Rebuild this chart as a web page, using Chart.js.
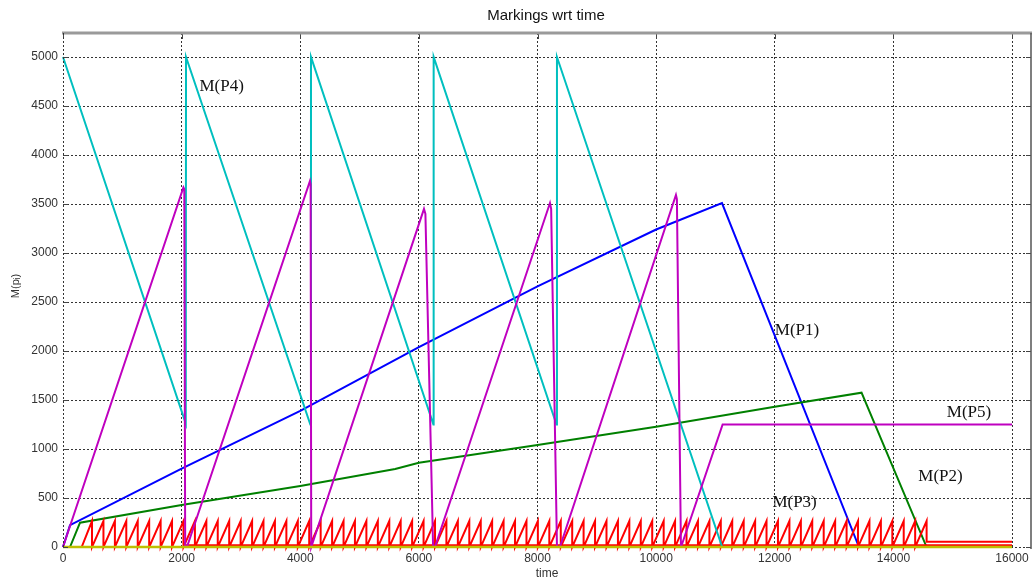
<!DOCTYPE html>
<html><head><meta charset="utf-8">
<script src="https://cdn.jsdelivr.net/npm/chart.js@4.4.1/dist/chart.umd.min.js"></script>
<style>html,body{margin:0;padding:0;background:#fff;}canvas{display:block}</style>
</head><body>
<canvas id="c" width="1033" height="581"></canvas>
<script>
// ---- tick labels ----
const xTicks = [0,2000,4000,6000,8000,10000,12000,14000,16000];
const yTicks = [0,500,1000,1500,2000,2500,3000,3500,4000,4500,5000];

// ---- M(P1) blue ----
const p1Time = [0,118,2000,4000,6000,8000,10000,11110,13420,16000];
const p1Val  = [0,224,800,1390,2040,2660,3240,3510,0,0];

// ---- M(P2) green ----
const p2Time = [0,118,287,2000,4000,5600,6000,8000,10000,12000,13463,14560,16000];
const p2Val  = [0,0,248,428,622,796,860,1040,1228,1432,1575,0,0];

// ---- M(P3) red sawtooth: times of the tooth peaks ----
const p3Start = 315;
const p3Peak = 265;
const p3PeakTimes = [489,682,875,1067,1260,1453,1646,1838,2031,2224,2417,2609,2802,2995,3188,3380,3573,3766,3959,4151,
  4344,4537,4730,4922,5115,5308,5501,5693,5886,6079,6272,6464,6657,6850,7043,7235,7428,7621,7814,8006,
  8199,8392,8585,8777,8970,9163,9356,9548,9741,9934,10127,10319,10512,10705,10898,11090,11283,11476,11669,11861,
  12054,12247,12440,12632,12825,13018,13211,13403,13596,13789,13982,14174,14367,14560];
const p3TailTime = [14560,16000];
const p3TailVal  = [55,55];
const redLowTime = [2040,16000];
const redLowVal  = [18,18];

// ---- M(P4) cyan ----
const p4Time = [0,2070,2074,4170,4181,6245,6249,8320,8328,11113,16000];
const p4Val  = [5000,1260,5000,1250,5000,1250,5000,1250,5000,0,0];

// ---- M(P5) magenta ----
const p5Time = [0,2030,2045,2060,2090,4164,4175,4185,4192,6086,6110,6240,6271,8210,8230,8328,8378,10334,10350,10418,10420,11121,16000];
const p5Val  = [0,3670,3650,0,0,3735,3700,0,0,3450,3400,0,0,3510,3450,0,0,3592,3550,0,0,1250,1250];

// ---- yellow baseline ----
const p6Time = [0,16000];
const p6Val  = [0,0];

// ---- labels ----
const labelText = ['M(P4)','M(P1)','M(P5)','M(P2)','M(P3)'];
const labelX    = [2300,12000,14900,14420,11960];
const labelY    = [4700,2210,1370,720,450];

function pts(t,v){return t.map((x,i)=>({x:x,y:v[i]}));}
function saw(){
  const d=[{x:0,y:0},{x:p3Start,y:0}];
  p3PeakTimes.forEach((t,i)=>{d.push({x:t,y:p3Peak});d.push({x:t,y:i===p3PeakTimes.length-1?p3TailVal[0]:0});});
  d.push({x:p3TailTime[1],y:p3TailVal[1]});
  return d;
}
const C={b:'#0000ff',g:'#008000',r:'#ff0000',c:'#00bfbf',m:'#bf00bf',y:'#bfbf00'};
function ds(data,color,order,w){return {data:data,borderColor:color,backgroundColor:color,borderWidth:w||2,pointRadius:0,showLine:true,tension:0,fill:false,order:order,clip:4};}

const frame={id:'frame',afterDraw(chart){
  const a=chart.chartArea,ctx=chart.ctx,xs=chart.scales.x,ys=chart.scales.y;
  ctx.save();
  ctx.strokeStyle='#444';ctx.lineWidth=1;
  xTicks.forEach(v=>{const x=Math.round(xs.getPixelForValue(v))+0.5;ctx.beginPath();ctx.moveTo(x,a.top);ctx.lineTo(x,a.top+6);ctx.stroke();});
  yTicks.forEach(v=>{const y=Math.round(ys.getPixelForValue(v))+0.5;ctx.beginPath();ctx.moveTo(a.left,y);ctx.lineTo(a.left+5,y);ctx.moveTo(a.right,y);ctx.lineTo(a.right-5,y);ctx.stroke();});
  ctx.strokeStyle='#9a9a9a';ctx.lineWidth=3;
  ctx.beginPath();ctx.moveTo(a.left-1,a.top);ctx.lineTo(a.right+1,a.top);ctx.stroke();
  ctx.strokeStyle='#555';ctx.lineWidth=1.5;
  ctx.beginPath();ctx.moveTo(a.right,a.top);ctx.lineTo(a.right,a.bottom);ctx.stroke();
  ctx.strokeStyle='#333';ctx.lineWidth=1;ctx.setLineDash([2,2]);
  ctx.beginPath();ctx.moveTo(a.left+0.5,a.top);ctx.lineTo(a.left+0.5,a.bottom);ctx.stroke();
  ctx.setLineDash([]);
  // title
  ctx.fillStyle='#111';ctx.font='15px "Liberation Sans", Arial, sans-serif';ctx.textAlign='center';ctx.textBaseline='middle';
  ctx.fillText('Markings wrt time',546,16);
  // y axis title
  ctx.save();ctx.translate(16,(a.top+a.bottom)/2-5);ctx.rotate(-Math.PI/2);
  ctx.fillStyle='#333';ctx.font='11px "Liberation Sans", Arial, sans-serif';ctx.fillText('M(pᵢ)',0,0);ctx.restore();
  // annotations
  ctx.font='17px "Liberation Serif", "Times New Roman", serif';ctx.textAlign='left';ctx.fillStyle='#111';
  labelText.forEach((t,i)=>ctx.fillText(t,xs.getPixelForValue(labelX[i]),ys.getPixelForValue(labelY[i])));
  ctx.restore();
}};

new Chart(document.getElementById('c'),{
  type:'scatter',
  data:{datasets:[
    ds(pts(p6Time,p6Val),C.y,0,2.5),
    ds(pts(p5Time,p5Val),C.m,1),
    ds(pts(p4Time,p4Val),C.c,2),
    ds(saw(),C.r,3),
    ds(pts(redLowTime,redLowVal),C.r,3),
    ds(pts(p2Time,p2Val),C.g,4),
    ds(pts(p1Time,p1Val),C.b,5)
  ]},
  options:{
    responsive:false,animation:false,
    layout:{padding:{top:33,right:2,left:0,bottom:0}},
    plugins:{legend:{display:false},tooltip:{enabled:false},title:{display:false}},
    scales:{
      x:{type:'linear',min:0,max:16320,
        afterBuildTicks:s=>{s.ticks=xTicks.map(v=>({value:v}));},
        afterFit:s=>{s.height=32;},
        ticks:{callback:v=>String(v),color:'#333',font:{family:'"Liberation Sans", Arial',size:12},padding:2,maxRotation:0,autoSkip:false},
        grid:{color:'#333',lineWidth:1,drawTicks:false},
        border:{display:false,dash:[2,2]},
        title:{display:true,text:'time',color:'#333',font:{family:'"Liberation Sans", Arial',size:12},padding:{top:0,bottom:0}}
      },
      y:{type:'linear',min:-20,max:5245,
        afterBuildTicks:s=>{s.ticks=yTicks.map(v=>({value:v}));},
        afterFit:s=>{s.width=63;},
        ticks:{callback:v=>String(v),color:'#333',font:{family:'"Liberation Sans", Arial',size:12},padding:5,autoSkip:false},
        grid:{color:'#333',lineWidth:1,drawTicks:false},
        border:{display:false,dash:[2,2]}
      }
    }
  },
  plugins:[frame]
});
</script>
</body></html>
